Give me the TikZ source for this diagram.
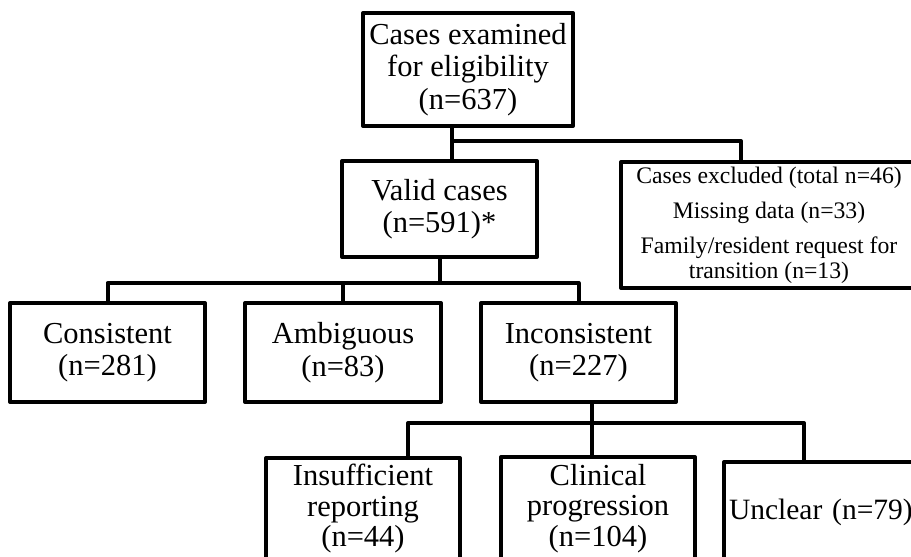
\documentclass[tikz,border=0pt]{standalone}
\usepackage{fontspec}
\setmainfont{Liberation Serif}
\usetikzlibrary{positioning}

\begin{document}
\begin{tikzpicture}[x=1pt, y=-1pt,
    box style/.style={
        draw, line width=4pt, line join=round,
        inner sep=0pt, align=center,
        font=\fontsize{30.5}{32.5}\selectfont
    },
    small box/.style={box style, font=\fontsize{23.7}{25}\selectfont},
    edge/.style={line width=4pt, line join=round}
]
				\useasboundingbox (0,0) rectangle (911,557);
				\clip (0,0) rectangle (911,557);
				
				\node[box style, minimum width=210, minimum height=113] (exam) at (468,69.5) {Cases examined\\for eligibility\\(n=637)};
				\node[box style, minimum width=195, minimum height=96] (valid) at (439.5,209) {Valid cases\\(n=591)*};
				\node[small box, minimum width=296, minimum height=126] (excl) at (769,225) {Cases excluded (total n=46)\\[10pt]Missing data (n=33)\\[10pt]Family/resident request for\\transition (n=13)};
				
				\node[box style, minimum width=195, minimum height=99] (cons) at (107.5,352.5) {Consistent\\(n=281)};
				\node[box style, minimum width=196, minimum height=99] (ambi) at (343,352.5) {Ambiguous\\(n=83)};
				\node[box style, minimum width=195, minimum height=99] (incons) at (578.5,352.5) {Inconsistent\\(n=227)};
				
				\node[box style, minimum width=194, minimum height=102, font=\fontsize{30.5}{30.5}\selectfont] (insuf) at (363,509) {Insufficient\\reporting\\(n=44)};
				\node[box style, minimum width=194, minimum height=103, font=\fontsize{30.5}{30.5}\selectfont] (clin) at (598,508.5) {Clinical\\progression\\(n=104)};
				\node[box style, minimum width=196, minimum height=100, text width=186, align=left, font=\fontsize{29.5}{30}\selectfont] (uncl) at (822,512) {\mbox{Unclear (n=79)}};
				
				\coordinate (top split) at (452,141);
				\coordinate (mid bar) at (0,283);
				\coordinate (low bar) at (0,423);
				
				\draw[edge] ([xshift=-16pt]exam.south) -- (top split |- valid.north);
				\draw[edge] (top split) -| ([xshift=-28pt]excl.north);
				
				\draw[edge] (valid.south) -- (valid.south |- mid bar);
				\draw[edge] (cons.north) -- (cons.north |- mid bar) -| (incons.north);
				\draw[edge] (ambi.north) -- (ambi.north |- mid bar);
				
				\draw[edge] ([xshift=13.5pt]incons.south) -- ([xshift=13.5pt]incons.south |- clin.north);
				\draw[edge] ([xshift=45pt]insuf.north) -- ([xshift=45pt]insuf.north |- low bar) -| ([xshift=-18pt]uncl.north);
				
			\end{tikzpicture}
\end{document}
